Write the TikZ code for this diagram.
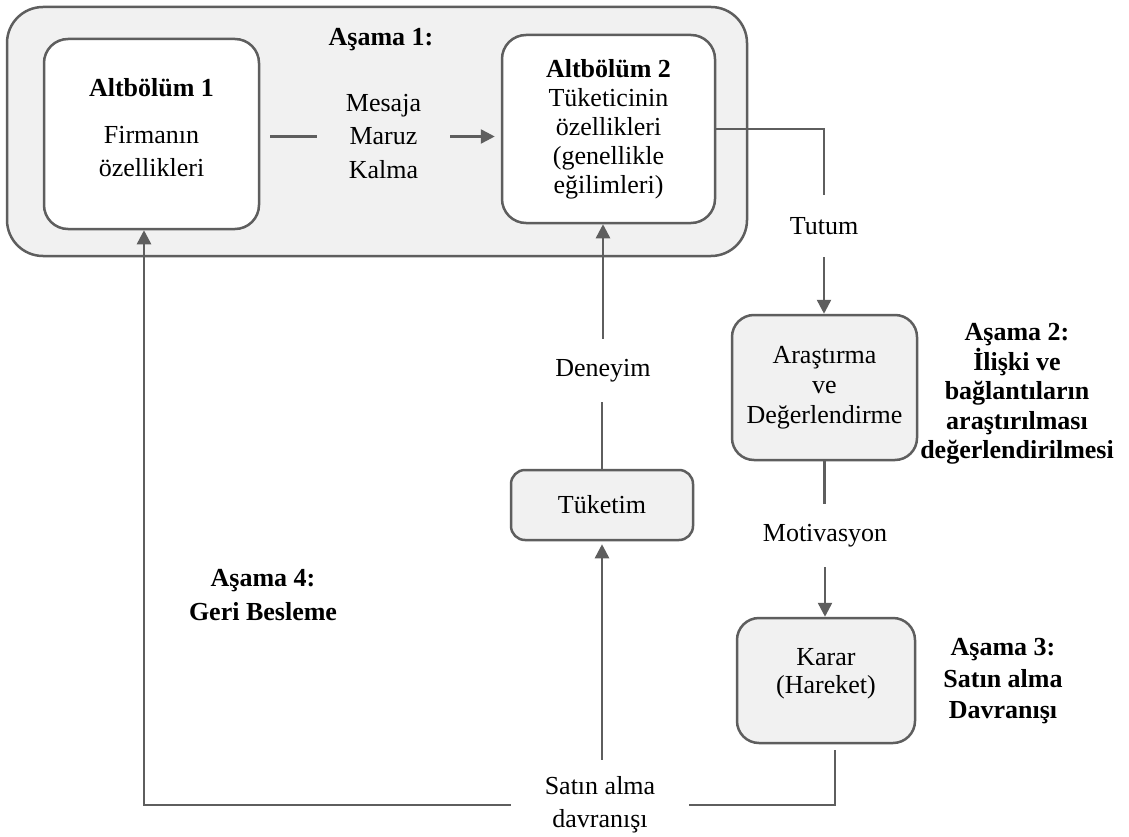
\documentclass[tikz,border=0pt]{standalone}
\usepackage{fontspec}
\setmainfont{LiberationSerif}[
  Extension=.ttf,
  UprightFont=*-Regular,
  BoldFont=*-Bold,
  ItalicFont=*-Italic,
  BoldItalicFont=*-BoldItalic]
\usetikzlibrary{arrows.meta}
\definecolor{edgegray}{HTML}{5E5E5E}
\definecolor{boxfill}{HTML}{F1F1F1}
\tikzset{
  stage/.style={draw=edgegray, line width=2.5pt, fill=boxfill, rounded corners=36pt, inner sep=0pt},
  subbox/.style={draw=edgegray, line width=2.5pt, fill=white, rounded corners=24pt, inner sep=0pt, align=center},
  stepbox/.style={draw=edgegray, line width=2.5pt, fill=boxfill, rounded corners=22pt, inner sep=0pt, align=center},
  txt/.style={align=center, inner sep=0pt},
  edgelabel/.style={fill=white, inner sep=0pt, align=center},
  link/.style={draw=edgegray, line width=2.5pt},
  arrowlink/.style={link, -{Triangle[length=14pt,width=14pt]}},
  phase/.style={align=center, inner sep=0pt}
}
\begin{document}
\begin{tikzpicture}[x=1pt, y=-1pt, font=\fontsize{26}{30}\selectfont]
\useasboundingbox (0,0) rectangle (1129,837);
\fill[white] (0,0) rectangle (1129,837);

% Stage 1 container with its two sub-sections
\node[stage, minimum width=740pt, minimum height=249pt] (stage1) at (377,131.5) {};
\node[subbox, minimum width=215pt, minimum height=190pt] (box1) at (151.5,134) {};
\node[txt, font=\fontsize{26}{33}\selectfont] (box1text) at (151.5,128)
  {\textbf{Altbölüm 1}\\[14pt]Firmanın\\özellikleri};
\node[subbox, minimum width=213pt, minimum height=188pt, font=\fontsize{26}{29}\selectfont] (box2) at (608.5,129)
  {\textbf{Altbölüm 2}\\Tüketicinin\\özellikleri\\(genellikle\\eğilimleri)};
\node[phase, font=\bfseries\fontsize{26}{30}\selectfont] (p1) at (381,40) {Aşama 1:};
\node[txt, minimum width=133pt, font=\fontsize{26}{33.5}\selectfont] (mesaj) at (383.5,136.5)
  {Mesaja\\Maruz\\Kalma};

% Right-hand column
\node[edgelabel, minimum width=114pt, minimum height=62pt] (tutum) at (824,226) {Tutum};
\node[stepbox, minimum width=185pt, minimum height=145pt] (arastirma) at (824.5,387.5)
  {Araştırma\\ve\\Değerlendirme};
\node[phase, font=\bfseries\fontsize{26}{29.5}\selectfont] (p2) at (1017,394)
  {Aşama 2:\\İlişki ve\\bağlantıların\\araştırılması\\değerlendirilmesi};
\node[edgelabel, minimum width=150pt, minimum height=63pt] (motiv) at (825,535.5) {Motivasyon};
\node[stepbox, minimum width=178pt, minimum height=125pt] (karar) at (826,680.5) {};
\node[txt, font=\fontsize{26}{28}\selectfont] (karartext) at (826,674) {Karar\\(Hareket)};
\node[phase, font=\bfseries\fontsize{26}{31.5}\selectfont] (p3) at (1003,681.5)
  {Aşama 3:\\Satın alma\\Davranışı};

% Middle column and feedback
\node[stepbox, rounded corners=14pt, minimum width=182pt, minimum height=70pt] (tuketim) at (602,505) {Tüketim};
\node[edgelabel, minimum width=168pt, minimum height=63pt] (deneyim) at (603,370.5) {Deneyim};
\node[txt, minimum width=178pt, minimum height=90pt, font=\fontsize{26}{33}\selectfont] (satin) at (600,805)
  {Satın alma\\davranışı};
\node[phase, font=\bfseries\fontsize{26}{34}\selectfont] (p4) at (263,595) {Aşama 4:\\Geri Besleme};

% Connectors
\draw[link, shorten <=10pt] (mesaj.west -| box1.east) -- (mesaj.west);
\draw[arrowlink, shorten >=6pt] (mesaj.east) -- (mesaj.east -| box2.west);
\draw[link] (box2.east) -| (tutum.north);
\draw[arrowlink] (tutum.south) -- (tutum.south |- arastirma.north);
\draw[link] (arastirma.south) -- (arastirma.south |- motiv.north);
\draw[arrowlink] (motiv.south) -- (motiv.south |- karar.north);
\draw[link] ([xshift=9pt,yshift=-6pt]karar.south) |- (satin.east);
\draw[arrowlink, shorten >=3pt] (satin.north -| tuketim.south) -- (tuketim.south);
\draw[link] (tuketim.north) -- (tuketim.north |- deneyim.south);
\draw[arrowlink] (deneyim.north) -- (deneyim.north |- box2.south);
\draw[arrowlink] (satin.west) -| ([xshift=-7.5pt]box1.south);
\end{tikzpicture}
\end{document}
